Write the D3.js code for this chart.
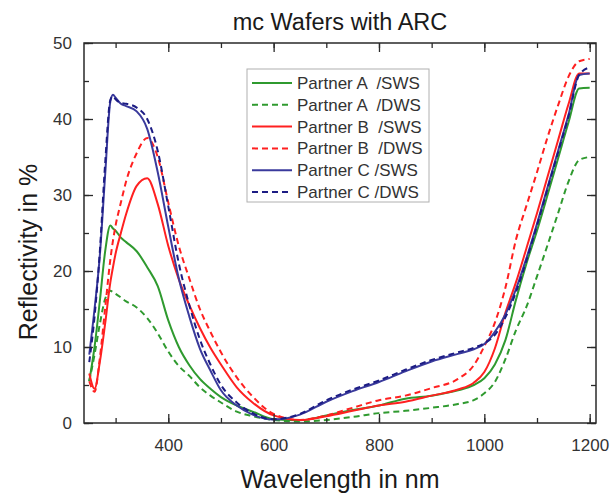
<!DOCTYPE html>
<html>
<head>
<meta charset="utf-8">
<script src="https://cdn.jsdelivr.net/npm/d3@7"></script>
<style>
    body { margin: 0; background: #ffffff; }
    text { font-family: Arial, "Liberation Sans", sans-serif; }
</style>
</head>
<body>
<div id="grafico"></div>
<script>

// dati (lunghezza d'onda in nm, riflettivita' in %)
let wl = [250, 260, 270, 280, 290, 295, 300, 310, 320, 340, 360, 380, 400, 420, 440, 460, 480, 500, 530, 560,
    600, 650, 700, 750, 800, 850, 900, 950, 980, 1000, 1020, 1040, 1060, 1080, 1100, 1120, 1140, 1160, 1180, 1200];

let aSws = [5.5, 10, 16, 22.5, 26, 25.6, 25.3, 24.4, 23.8, 22.6, 20.5, 18, 13.5, 10, 7.6, 5.8, 4.5, 3.4, 2.3, 1.5,
    0.5, 0.35, 1.0, 1.7, 2.3, 3.2, 3.6, 4.3, 5.0, 5.9, 7.7, 10.9, 16.2, 21, 25.3, 30, 34.8, 39.6, 44, 44.1];
let aDws = [5.5, 9, 13, 16.3, 17.4, 17.2, 17, 16.5, 16, 15.2, 13.8, 11.8, 9.4, 7.5, 6.2, 4.7, 3.6, 2.7, 1.5, 0.9,
    0.4, 0.2, 0.4, 0.8, 1.3, 1.6, 2.0, 2.5, 3.0, 3.9, 5.4, 8.4, 12.2, 15.3, 19.3, 23.4, 27.6, 31.8, 34.6, 35.0];
let bSws = [6.5, 4.5, 8, 13, 18.5, 20.5, 22.3, 25, 27.5, 31.2, 32.2, 28.8, 23.3, 18.9, 15.5, 12.5, 9.9, 7.7, 4.7, 2.7,
    1.0, 0.4, 0.9, 1.6, 2.3, 2.8, 3.6, 4.4, 5.3, 6.7, 9.8, 14.5, 18.5, 23, 27.6, 32.4, 37.2, 42, 46, 46];
let bDws = [5.5, 4.1, 8.5, 15, 21.5, 24, 26, 29, 31.8, 35.5, 37.5, 35, 29, 23.3, 19, 15, 12, 9.3, 6, 3.5,
    1.2, 0.4, 1.0, 2.0, 3.0, 3.6, 4.6, 5.8, 7.6, 10.1, 13.2, 17.8, 24.1, 28.6, 33, 37.6, 41.8, 45.6, 47.6, 47.9];
let cSws = [9, 15, 22, 32.5, 42.3, 43.2, 42.8, 42, 41.7, 41, 38.7, 33, 25.8, 19, 14, 9.8, 6.9, 4.3, 2.3, 1.1,
    0.45, 1.1, 2.8, 4.2, 5.4, 6.8, 8.1, 9.1, 9.7, 10.4, 12, 14.3, 17.6, 21.7, 26.2, 31, 35.8, 40.6, 45.8, 46];
let cDws = [8, 14, 22.5, 34, 42.5, 43, 42.6, 42.1, 42, 41.5, 40, 35.8, 28.5, 21, 15.5, 11, 7.7, 5, 2.7, 1.3,
    0.5, 1.2, 3.0, 4.4, 5.6, 7, 8.3, 9.3, 9.9, 10.5, 11.6, 13.9, 17.2, 21.4, 26, 30.8, 35.6, 40.4, 45.8, 46.8];

let nomi = ["Partner A  /SWS", "Partner A  /DWS", "Partner B  /SWS", "Partner B  /DWS", "Partner C /SWS", "Partner C /DWS"];
let serie = [aSws, aDws, bSws, bDws, cSws, cDws];
let colori = ["#2f9a2f", "#2f9a2f", "#ff2020", "#ff2020", "#3a3a9c", "#1c1c84"];
let tratteggi = [null, "6,4", null, "6,4", null, "6,4"];

let xTicks = [400, 600, 800, 1000, 1200];
let yTicks = [0, 10, 20, 30, 40, 50];

// dimensioni
let larghezza = 616;
let altezza = 498;
let margine = { top: 43, right: 20, bottom: 75, left: 84 };
let x0 = margine.left, x1 = larghezza - margine.right;
let y0 = altezza - margine.bottom, y1 = margine.top;

let svg = d3.select("#grafico")
    .append("svg")
    .attr("width", larghezza)
    .attr("height", altezza);

let x = d3.scaleLinear().domain([240, 1212]).range([x0, x1]);
let y = d3.scaleLinear().domain([0, 50]).range([y0, y1]);

// clip per le curve
svg.append("clipPath")
    .attr("id", "clip")
    .append("rect")
    .attr("x", x0).attr("y", y1)
    .attr("width", x1 - x0).attr("height", y0 - y1);

// curve
let linea = d3.line()
    .x((d, i) => x(wl[i]))
    .y((d) => y(d))
    .curve(d3.curveMonotoneX);

svg.append("g")
    .attr("clip-path", "url(#clip)")
    .selectAll("path")
    .data(serie)
    .enter().append("path")
    .attr("d", (d) => linea(d))
    .style("fill", "none")
    .style("stroke", (d, i) => colori[i])
    .style("stroke-width", 2)
    .style("stroke-dasharray", (d, i) => tratteggi[i]);

// assi con tacche verso l'interno su tutti i lati
let coloreAsse = "#2a2a2a";
let xMinor = d3.range(300, 1201, 100);
let yMinor = d3.range(0, 51, 5);
let formato = d3.format("d");

svg.append("g")
    .attr("transform", `translate(0,${y0})`)
    .call(d3.axisBottom(x).tickValues(xMinor).tickSize(-5).tickFormat(""))
    .call((g) => g.select(".domain").remove());
svg.append("g")
    .attr("transform", `translate(0,${y0})`)
    .call(d3.axisBottom(x).tickValues(xTicks).tickSize(-9).tickPadding(16).tickFormat(formato))
    .call((g) => g.select(".domain").remove());
svg.append("g")
    .attr("transform", `translate(0,${y1})`)
    .call(d3.axisTop(x).tickValues(xMinor).tickSize(-5).tickFormat(""))
    .call((g) => g.select(".domain").remove());
svg.append("g")
    .attr("transform", `translate(0,${y1})`)
    .call(d3.axisTop(x).tickValues(xTicks).tickSize(-9).tickFormat(""))
    .call((g) => g.select(".domain").remove());

svg.append("g")
    .attr("transform", `translate(${x0},0)`)
    .call(d3.axisLeft(y).tickValues(yMinor).tickSize(-5).tickFormat(""))
    .call((g) => g.select(".domain").remove());
svg.append("g")
    .attr("transform", `translate(${x0},0)`)
    .call(d3.axisLeft(y).tickValues(yTicks).tickSize(-9).tickPadding(12).tickFormat(formato))
    .call((g) => g.select(".domain").remove());
svg.append("g")
    .attr("transform", `translate(${x1},0)`)
    .call(d3.axisRight(y).tickValues(yMinor).tickSize(-5).tickFormat(""))
    .call((g) => g.select(".domain").remove());
svg.append("g")
    .attr("transform", `translate(${x1},0)`)
    .call(d3.axisRight(y).tickValues(yTicks).tickSize(-9).tickFormat(""))
    .call((g) => g.select(".domain").remove());

svg.selectAll(".tick line")
    .style("stroke", coloreAsse)
    .style("stroke-width", 1.3);
svg.selectAll(".tick text")
    .style("fill", "#333333")
    .style("font-size", "17px")
    .style("font-family", "Arial, 'Liberation Sans', sans-serif");

// cornice
svg.append("rect")
    .attr("x", x0).attr("y", y1)
    .attr("width", x1 - x0).attr("height", y0 - y1)
    .style("fill", "none")
    .style("stroke", coloreAsse)
    .style("stroke-width", 1.5);

// titoli
svg.append("text")
    .attr("x", (x0 + x1) / 2)
    .attr("y", 30)
    .style("text-anchor", "middle")
    .style("font-size", "23.5px")
    .style("fill", "#1a1a1a")
    .text("mc Wafers with ARC");

svg.append("text")
    .attr("x", (x0 + x1) / 2)
    .attr("y", 488)
    .style("text-anchor", "middle")
    .style("font-size", "25px")
    .style("fill", "#1a1a1a")
    .text("Wavelength in nm");

svg.append("text")
    .attr("transform", "translate(37,252) rotate(-90)")
    .style("text-anchor", "middle")
    .style("font-size", "25px")
    .style("fill", "#1a1a1a")
    .text("Reflectivity in %");

// legenda
let legenda = svg.append("g");
legenda.append("rect")
    .attr("x", 247).attr("y", 69)
    .attr("width", 182).attr("height", 133)
    .style("fill", "#ffffff")
    .style("stroke", "#b0b0b0")
    .style("stroke-width", 1);

let righe = legenda.selectAll("g.riga")
    .data(nomi)
    .enter().append("g")
    .attr("class", "riga")
    .attr("transform", (d, i) => `translate(0,${83 + i * 21.8})`);

righe.append("line")
    .attr("x1", 252).attr("x2", 292)
    .attr("y1", 0).attr("y2", 0)
    .style("stroke", (d, i) => colori[i])
    .style("stroke-width", 2)
    .style("stroke-dasharray", (d, i) => tratteggi[i]);

righe.append("text")
    .attr("x", 297)
    .attr("y", 6)
    .style("font-size", "17px")
    .style("fill", "#333333")
    .style("white-space", "pre")
    .text((d) => d);

</script>
</body>
</html>
